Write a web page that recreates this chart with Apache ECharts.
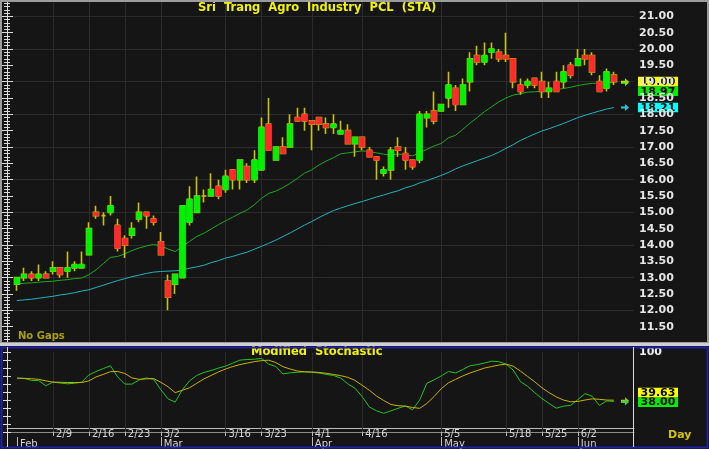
<!DOCTYPE html>
<html><head><meta charset="utf-8">
<script src="https://cdn.jsdelivr.net/npm/echarts@6/dist/echarts.min.js"></script>
<style>html,body{margin:0;padding:0;background:#151515;}#c{width:709px;height:449px;}</style>
</head><body><div id="c"></div>
<script>
// ---------------- DATA ----------------
const dates = ['2/2','2/3','2/4','2/5','2/6','2/9','2/10','2/11','2/12','2/13','2/16','2/17','2/18','2/19','2/20','2/23','2/24','2/25','2/26','2/27',
 '3/2','3/3','3/5','3/6','3/9','3/10','3/11','3/12','3/13','3/16','3/17','3/18','3/19','3/20','3/23','3/24','3/25','3/26','3/27','3/30','3/31',
 '4/1','4/2','4/3','4/7','4/8','4/9','4/10','4/16','4/17','4/20','4/21','4/22','4/23','4/24','4/27','4/28','4/29','4/30',
 '5/5','5/6','5/7','5/8','5/11','5/12','5/13','5/14','5/15','5/18','5/19','5/20','5/21','5/22','5/25','5/26','5/27','5/28','5/29',
 '6/2','6/3','6/4','6/5','6/8','6/9'];
const opens = [12.8,13.0,13.1,13.0,13.1,13.2,13.3,13.2,13.3,13.3, 13.7,15.0,14.9,15.0,14.6,14.2,14.3,14.8,15.0,14.8,
 14.1,12.9,12.8,13.0,14.7,15.0,15.5,15.5,15.8,15.7, 16.3,16.0,16.4,16.0,16.3,17.7,16.6,17.0,17.0,17.9,
 18.0,17.8,17.9,17.7,17.6,17.4,17.5,17.1,17.3,16.9, 16.7,16.2,16.3,17.0,16.8,16.6,16.6,17.9,18.1,18.1,
 18.5,18.8,18.3,19.0,19.8,19.6,19.9,19.9,19.8,19.7, 18.9,18.9,19.1,19.0,18.7,19.0,19.0,19.5,19.5,19.8,
 19.8,19.0,18.8,19.2];
const closes = [13.0,13.1,13.0,13.1,13.0,13.3,13.1,13.3,13.4,13.4, 14.5,14.9,14.9,15.2,13.9,14.0,14.5,15.0,14.9,14.7,
 13.7,12.4,13.1,15.2,15.4,15.5,15.5,15.7,15.5,16.1, 16.0,16.6,16.0,16.6,17.6,16.9,17.0,16.8,17.7,17.8,
 17.8,17.7,17.7,17.6,17.7,17.5,17.1,17.3,17.0,16.7, 16.6,16.3,16.9,16.9,16.6,16.4,18.0,18.0,17.8,18.3,
 18.9,18.3,18.9,19.7,19.6,19.8,20.0,19.7,19.7,19.0, 18.7,19.0,18.9,18.7,18.8,18.7,19.3,19.2,19.7,19.7,
 19.3,18.7,19.3,19.0];
const highs = [13.0,13.3,13.2,13.4,13.2,13.5,13.3,13.8,13.5,13.8, 14.7,15.2,15.0,15.5,14.8,14.3,14.7,15.3,15.0,14.9,
 14.4,13.1,13.1,15.2,15.8,16.1,15.7,16.2,16.0,16.3, 16.3,16.6,16.5,16.9,17.9,18.5,17.0,17.3,18.0,18.2,
 18.2,17.8,17.9,17.9,18.0,17.8,17.7,17.3,17.3,17.0, 16.7,16.4,17.0,17.3,17.0,16.6,18.1,18.1,18.7,18.3,
 19.3,18.9,19.1,19.9,20.1,20.2,20.2,20.0,20.5,19.7, 19.1,19.1,19.1,19.3,19.0,19.3,19.5,19.6,20.0,20.0,
 19.9,19.2,19.4,19.3];
const lows = [12.6,12.9,12.9,12.9,13.0,13.1,13.0,13.0,13.2,13.3, 13.7,14.8,14.6,14.9,13.8,13.6,14.2,14.7,14.5,14.6,
 13.7,12.0,12.5,13.0,14.6,15.0,15.3,15.5,15.4,15.6, 15.7,15.7,15.9,15.9,16.3,16.9,16.6,16.8,17.0,17.8,
 17.5,16.9,17.5,17.4,17.4,17.4,17.1,16.7,16.9,16.7, 16.0,16.1,16.0,16.7,16.3,16.3,16.5,17.6,17.7,18.1,
 18.2,18.1,18.3,18.7,19.5,19.5,19.7,19.6,19.6,18.8, 18.6,18.8,18.8,18.5,18.5,18.7,18.8,19.1,19.5,19.5,
 19.2,18.7,18.7,18.9];
const maFast = [12.81,12.83,12.84,12.86,12.88,12.89,12.92,12.94,12.97,12.99, 13.09,13.24,13.43,13.62,13.65,13.73,13.83,13.91,13.97,14.02,
 13.97,13.88,13.80,13.95,14.11,14.26,14.36,14.49,14.62,14.74, 14.85,14.97,15.07,15.23,15.43,15.58,15.65,15.76,15.89,16.04,
 16.20,16.30,16.45,16.57,16.67,16.79,16.82,16.85,16.88,16.86, 16.82,16.78,16.75,16.79,16.75,16.73,16.82,16.93,17.03,17.11,
 17.28,17.36,17.54,17.73,17.90,18.08,18.23,18.38,18.50,18.59, 18.63,18.68,18.69,18.71,18.74,18.76,18.79,18.83,18.88,18.92,
 18.95,18.95,18.97,18.97];
const maSlow = [12.30,12.32,12.34,12.37,12.40,12.43,12.47,12.50,12.54,12.59, 12.63,12.70,12.77,12.84,12.91,12.97,13.03,13.08,13.13,13.17,
 13.19,13.20,13.21,13.23,13.29,13.33,13.38,13.46,13.52,13.60, 13.65,13.72,13.78,13.87,13.96,14.05,14.15,14.26,14.37,14.49,
 14.61,14.72,14.84,14.95,15.05,15.13,15.20,15.27,15.33,15.40, 15.47,15.53,15.60,15.66,15.75,15.81,15.90,15.97,16.05,16.13,
 16.22,16.33,16.42,16.50,16.58,16.66,16.74,16.84,16.96,17.07, 17.20,17.30,17.40,17.49,17.56,17.64,17.72,17.81,17.90,17.97,
 18.04,18.10,18.16,18.21];
const stochK = [67.4,67.1,64.6,64.4,57.8,62.4,61.2,60.3,60.9,62.4, 71.5,75.8,79.5,83.0,69.0,59.9,59.9,65.3,67.7,65.9,
 52.9,41.3,37.1,52.9,64.0,70.8,74.6,77.0,80.1,82.6, 86.4,90.1,90.9,91.3,92.2,85.1,82.0,72.7,74.2,74.9,
 75.2,74.9,73.9,72.1,70.8,67.7,60.3,54.7,44.2,31.1, 26.2,23.1,26.2,29.3,32.4,27.4,39.8,60.9,65.3,70.2,
 75.8,73.9,78.3,83.0,84.5,86.4,88.8,88.2,85.1,77.7, 63.2,57.2,49.1,41.7,35.5,29.5,32.1,33.0,40.4,47.9,
 44.5,33.0,38.6,38.00];
const stochD = [67.4,67.1,66.7,65.9,64.0,62.4,62.2,61.9,61.9,61.9, 64.0,69.0,72.1,75.6,75.8,73.3,67.7,65.9,66.5,66.9,
 62.2,56.6,49.1,52.2,55.3,60.9,66.5,70.8,75.2,78.9, 82.0,84.5,86.4,88.2,89.5,90.1,87.0,81.8,78.9,76.4,
 75.4,75.2,74.6,73.6,72.1,70.6,68.4,64.6,58.4,52.2, 44.8,39.2,34.2,32.6,32.1,30.5,29.3,35.5,44.2,54.1,
 61.5,65.9,70.2,73.9,77.0,80.1,82.0,83.9,85.1,82.6, 76.4,69.6,62.8,55.3,49.1,43.8,39.8,37.6,38.0,39.8,
 41.3,40.7,39.8,39.63];
const weekLabels = ['2/9','2/16','2/23','3/2','3/16','3/23','4/1','4/16','5/5','5/18','5/25','6/2'];
const monthLabels = {'2/2':'Feb','3/2':'Mar','4/1':'Apr','5/5':'May','6/2':'Jun'};
const titleText = 'Sri  Trang  Agro  Industry  PCL  (STA)';
const stochTitle = 'Modified  Stochastic';

// ---------------- CHART ----------------
const FONT = 'DejaVu Sans';
const GRID_LINE = '#2c2c2c';
const AXIS_COLOR = '#dcdcdc';
const UP = '#00f000', DOWN = '#ff2b2b', WICK = '#c8c400';
const chart = echarts.init(document.getElementById('c'));
const N = dates.length;
const candleData = dates.map((d,i)=>[opens[i],closes[i],lows[i],highs[i]]);
const bodyData = dates.map((d,i)=> opens[i]===closes[i] ? '-' :
  [opens[i],closes[i],Math.min(opens[i],closes[i]),Math.max(opens[i],closes[i])]);
const vLines = weekLabels.map(d=>({xAxis:d}));
const vLineCfg = {silent:true, z:1, symbol:['none','none'], label:{show:false},
  lineStyle:{color:GRID_LINE, type:'solid', width:1}, emphasis:{disabled:true}, data:vLines};
const txt = (size, color, bold) => ({fontSize:size, color:color, fontWeight: bold?'bold':'normal', fontFamily:FONT});

const option = {
  backgroundColor:'#151515',
  animation:false,
  title:[
    {text:titleText, left:198, top:2, padding:0, z:20, textStyle:txt(11.5,'#f4f400',true)},
    {text:'No Gaps', left:18, top:331, padding:0, textStyle:txt(10,'#aaa200',true)},
    {text:stochTitle, left:251, top:346, padding:0, z:20, textStyle:txt(11.5,'#f4f400',true)},
    {text:'Day', left:668, top:430, padding:0, textStyle:txt(11,'#d4c400',true)}
  ],
  grid:[
    {left:7, right:75, top:0, bottom:106},
    {left:13.4, right:91.6, top:0, bottom:106},
    {left:13.4, right:91.6, top:352.3, bottom:16.4},
    {left:7, right:75, top:352.3, bottom:16.4}
  ],
  xAxis:[
    {gridIndex:0, type:'value', min:0, max:1, show:false},
    {gridIndex:1, type:'category', data:dates, show:false},
    {gridIndex:2, type:'category', data:dates, position:'bottom', offset:-4.6,
      axisLine:{show:false}, splitLine:{show:false},
      axisTick:{show:true, alignWithLabel:true, length:9, interval:(i,v)=>weekLabels.includes(v), lineStyle:{color:'#bdbdbd'}},
      axisLabel:{interval:(i,v)=>weekLabels.includes(v), align:'left', padding:[0,0,0,3], margin:2, ...txt(10,'#d6d6d6',false)}},
    {gridIndex:2, type:'category', data:dates, position:'bottom', offset:5.4,
      axisLine:{show:false}, splitLine:{show:false},
      axisTick:{show:true, alignWithLabel:true, length:9, interval:(i,v)=>v in monthLabels, lineStyle:{color:'#bdbdbd'}},
      axisLabel:{interval:(i,v)=>v in monthLabels, formatter:v=>monthLabels[v]||'', align:'left', padding:[0,0,0,3], margin:2, ...txt(10,'#d6d6d6',false)}},
    {gridIndex:3, type:'value', min:0, max:1, position:'bottom', offset:-4.6,
      axisLine:{show:true, lineStyle:{color:'#bdbdbd'}}, axisTick:{show:false}, axisLabel:{show:false}, splitLine:{show:false}},
    {gridIndex:3, type:'value', min:0, max:1, position:'bottom', offset:5.4,
      axisLine:{show:true, lineStyle:{color:'#8a8a8a'}}, axisTick:{show:false}, axisLabel:{show:false}, splitLine:{show:false}}
  ],
  yAxis:[
    {gridIndex:0, type:'value', position:'right', min:11, max:21.5, interval:0.5,
      axisLine:{show:true, lineStyle:{color:AXIS_COLOR}},
      axisTick:{show:true, inside:true, length:6, lineStyle:{color:AXIS_COLOR}},
      minorTick:{show:true, splitNumber:5, length:3, lineStyle:{color:AXIS_COLOR}},
      axisLabel:{margin:5, formatter:v=>v.toFixed(2), showMinLabel:false, showMaxLabel:false, ...txt(11,'#e6e6e6',true)},
      splitLine:{show:false}},
    {gridIndex:0, type:'value', position:'left', min:11, max:21.5, interval:0.5,
      axisLine:{show:true, lineStyle:{color:AXIS_COLOR}},
      axisTick:{show:true, inside:true, length:6, lineStyle:{color:AXIS_COLOR}},
      minorTick:{show:true, splitNumber:5, length:3, lineStyle:{color:AXIS_COLOR}},
      axisLabel:{show:false}, splitLine:{show:false}},
    {gridIndex:0, type:'value', position:'left', min:11, max:21.5, interval:1,
      axisLine:{show:false}, axisTick:{show:false}, axisLabel:{show:false},
      splitLine:{show:true, lineStyle:{color:GRID_LINE, width:1}}},
    {gridIndex:1, type:'value', min:11, max:21.5, show:false},
    {gridIndex:2, type:'value', min:0, max:100, show:false},
    {gridIndex:3, type:'value', position:'left', min:0, max:100, interval:10,
      axisLine:{show:true, lineStyle:{color:AXIS_COLOR}},
      axisTick:{show:true, inside:true, length:4, lineStyle:{color:AXIS_COLOR}},
      axisLabel:{show:false}, splitLine:{show:false}},
    {gridIndex:3, type:'value', position:'right', min:0, max:100, interval:10,
      axisLine:{show:true, lineStyle:{color:AXIS_COLOR}},
      axisTick:{show:true, inside:true, length:4, lineStyle:{color:AXIS_COLOR}},
      axisLabel:{margin:5, formatter:v=>v===100?'100':'', ...txt(11,'#f0f0f0',true)},
      splitLine:{show:false}}
  ],
  series:[
    {type:'line', xAxisIndex:1, yAxisIndex:3, data:maFast, symbol:'none', z:2,
      lineStyle:{color:'#1caa1c', width:1}, emphasis:{disabled:true}, markLine:vLineCfg},
    {type:'line', xAxisIndex:1, yAxisIndex:3, data:maSlow, symbol:'none', z:2,
      lineStyle:{color:'#1fb3bd', width:1}, emphasis:{disabled:true}},
    {type:'candlestick', xAxisIndex:1, yAxisIndex:3, data:candleData, barWidth:5, z:3,
      itemStyle:{color:'transparent', color0:'transparent', borderColor:WICK, borderColor0:WICK, borderWidth:1.6},
      emphasis:{disabled:true}},
    {type:'candlestick', xAxisIndex:1, yAxisIndex:3, data:bodyData, barWidth:6, z:4,
      itemStyle:{color:UP, color0:DOWN, borderColor:UP, borderColor0:DOWN, borderWidth:0.8},
      emphasis:{disabled:true}},
    {type:'line', xAxisIndex:2, yAxisIndex:4, data:stochK, symbol:'none', z:2,
      lineStyle:{color:'#22c422', width:1}, emphasis:{disabled:true}, markLine:vLineCfg},
    {type:'line', xAxisIndex:2, yAxisIndex:4, data:stochD, symbol:'none', z:3,
      lineStyle:{color:'#c9b300', width:1}, emphasis:{disabled:true}}
  ]
};
chart.setOption(option);

// ---------------- annotations (value boxes, arrows, frame) ----------------
const BOX_H = 9.6, BOX_X = 638, BOX_W = 40;
const yMain = v => chart.convertToPixel({yAxisIndex:0}, v);
const yStoch = v => chart.convertToPixel({yAxisIndex:6}, v);
function box(yc, val, fill){
  return {type:'group', z:100, silent:true, children:[
    {type:'rect', shape:{x:BOX_X, y:yc-BOX_H/2, width:BOX_W, height:BOX_H}, style:{fill:fill}},
    {type:'text', style:{text:val.toFixed(2), x:BOX_X+BOX_W/2, y:yc+0.5, align:'center', verticalAlign:'middle',
      fill:'#000', font:'bold 11px "DejaVu Sans"'}}
  ]};
}
function arrow(yc, color){
  return {type:'polygon', z:100, silent:true,
    shape:{points:[[621,yc-1],[625,yc-1],[625,yc-3.5],[629,yc],[625,yc+3.5],[625,yc+1],[621,yc+1]]},
    style:{fill:color}};
}
const g = [];
g.push({type:'rect', z:90, silent:true, shape:{x:1,y:1,width:707,height:342}, style:{fill:'none', stroke:'#9c9c9c', lineWidth:2}});
g.push({type:'rect', z:90, silent:true, shape:{x:0,y:343,width:709,height:3}, style:{fill:'#cfcfcf'}});
g.push({type:'rect', z:90, silent:true, shape:{x:1.5,y:347.5,width:706,height:100}, style:{fill:'none', stroke:'#2020a8', lineWidth:2}});
g.push({type:'line', z:90, silent:true, shape:{x1:633.5,y1:347,x2:633.5,y2:447}, style:{stroke:AXIS_COLOR, lineWidth:1}});
g.push({type:'line', z:90, silent:true, shape:{x1:7.5,y1:347,x2:7.5,y2:447}, style:{stroke:AXIS_COLOR, lineWidth:1}});
const mainItems = [
  {v:closes[N-1], fill:'#ffff00', arrow:'#c8e000'},
  {v:maFast[N-1], fill:'#00ee00', arrow:'#7ee010'},
  {v:maSlow[N-1], fill:'#00ffff', arrow:'#20c8d8'}
].sort((a,b)=>b.v-a.v);
let prev = -Infinity;
mainItems.forEach(it=>{
  const y = yMain(it.v);
  g.push(arrow(y, it.arrow));
  const c = Math.max(y, prev + BOX_H);
  g.push(box(c, it.v, it.fill));
  prev = c;
});
const stItems = [
  {v:stochK[N-1], fill:'#00ee00', arrow:'#40d040'},
  {v:stochD[N-1], fill:'#ffff00', arrow:'#c9c000'}
].sort((a,b)=>a.v-b.v);
let prevS = Infinity;
stItems.slice().reverse().forEach(it=>g.push(arrow(yStoch(it.v), it.arrow)));
stItems.forEach(it=>{
  const y = yStoch(it.v);
  const c = Math.min(y, prevS - BOX_H);
  g.push(box(c, it.v, it.fill));
  prevS = c;
});
chart.setOption({graphic:g});
</script>
</body></html>
